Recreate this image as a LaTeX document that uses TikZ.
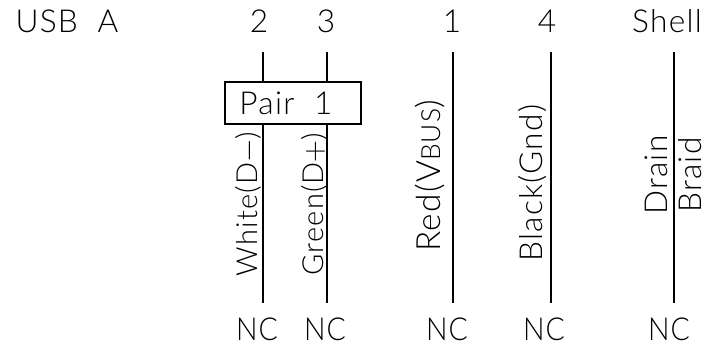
\documentclass[tikz,border=0pt]{standalone}
\usepackage{fontspec}
\setmainfont[LetterSpace=4]{Lato Light}
\usetikzlibrary{calc}
\tikzset{
  cadtext/.style={inner sep=0, font=\fontsize{18}{20}\selectfont},
  nctext/.style={cadtext, xscale=0.9},
  wirelabel/.style={cadtext, rotate=90, anchor=base},
  pairlabel/.style={wirelabel, font=\fontsize{16.5}{18}\selectfont},
  wire/.style={draw, line width=0.035cm}
}

\begin{document}
\begin{tikzpicture}
  \useasboundingbox (0, 0) rectangle (14.28, 6.98);

  \node[cadtext] at (1.34, 6.56) (usb) {USB\ \ A};

  % pins along the top, NC along the bottom
  \foreach \name/\txt/\x/\nx in {a/2/5.18/5.14, b/3/6.52/6.50, c/1/9.04/8.94, d/4/10.94/10.88, e/Shell/13.34/13.38} {
    \node[cadtext] at (\x, 6.56) (pin\name) {\txt};
    \node[nctext] at (\nx, 0.40) (nc\name) {NC};
  }

  \foreach \name/\x in {a/5.26, b/6.54, c/9.06, d/11.02, e/13.48} {
    \coordinate (top\name) at (\x, 5.94);
    \coordinate (bot\name) at (\x, 0.92);
    \draw[wire] (top\name) -- (bot\name);
  }

  \node[cadtext, wire, fill=white, minimum width=2.72cm, minimum height=0.84cm] at (5.86, 4.92) (pair) {Pair\ \ 1\kern0.28cm};

  \node[pairlabel] at (5.14, 2.90) (white) {White(D$-$)};
  \node[pairlabel] at (6.46, 2.90) (green) {Green(D$+$)};
  \node[wirelabel, font=\fontsize{19}{21}\selectfont] at (8.80, 3.46) (red) {Red(V{\fontsize{15}{17}\selectfont BUS})};
  \node[wirelabel] at (10.84, 3.32) (black) {Black(Gnd)};
  \node[wirelabel] at (13.34, 3.48) (drain) {Drain};
  \node[wirelabel] at (14.02, 3.48) (braid) {Braid};
\end{tikzpicture}
\end{document}
